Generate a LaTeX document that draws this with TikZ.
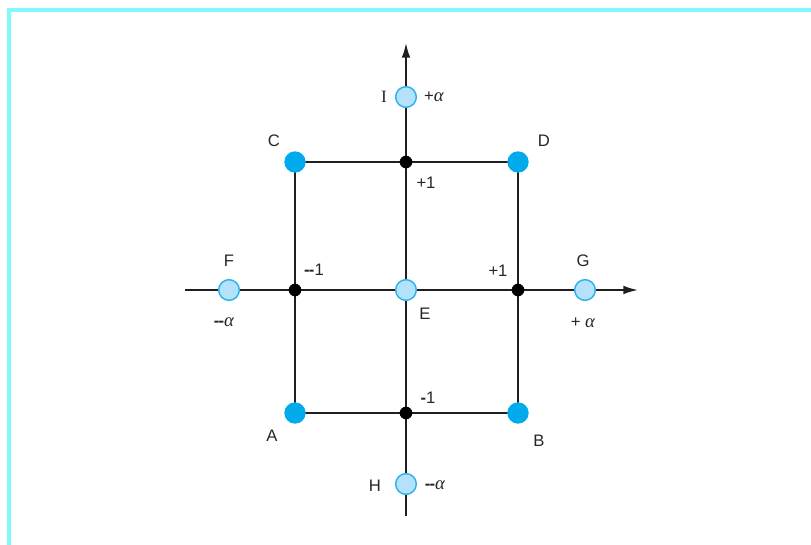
\documentclass[tikz,border=0pt]{standalone}
\usepackage{fontspec}
\setmainfont{Liberation Sans}
\newfontfamily\serifI{Liberation Serif}
\usetikzlibrary{arrows.meta,backgrounds}
\definecolor{framec}{RGB}{128,250,255}
\definecolor{cornerc}{RGB}{0,170,235}
\definecolor{lightfill}{RGB}{180,226,250}
\definecolor{lightedge}{RGB}{45,178,235}
\newcommand{\dm}{\textbf{-}\kern-0.6pt\textbf{-}}
\newcommand{\alp}{{\serifI\fontsize{14}{14}\selectfont\textit{α}}}
\begin{document}
\begin{tikzpicture}[x=0.75pt,y=-0.75pt,
  cornerdot/.style={circle,fill=cornerc,minimum size=16pt,inner sep=0pt},
  blackdot/.style={circle,fill=black,minimum size=9.5pt,inner sep=0pt},
  starpt/.style={circle,fill=lightfill,draw=lightedge,line width=1.1pt,minimum size=15.5pt,inner sep=0pt},
  edgeline/.style={line width=1.5pt,draw=black!88},
  axisline/.style={line width=1.3pt,draw=black!88,-{Latex[length=11pt,width=6.5pt]}},
  lbl/.style={font=\fontsize{12.5}{14}\selectfont,text=black!85,inner sep=0pt}]
\useasboundingbox (0,0) rectangle (811,545);
\clip (0,0) rectangle (811,545);
\draw[framec,line width=2.4pt] (9,10) rectangle (830,560);

% points
\node[cornerdot] (A) at (295,413) {};
\node[cornerdot] (B) at (518,413) {};
\node[cornerdot] (C) at (295,162) {};
\node[cornerdot] (D) at (518,162) {};
\node[blackdot] (top) at (406,162) {};
\node[blackdot] (bot) at (406,413) {};
\node[blackdot] (lft) at (295,290) {};
\node[blackdot] (rgt) at (518,290) {};
\node[starpt] (E) at (406,290) {};
\node[starpt] (I) at (406,97) {};
\node[starpt] (H) at (406,484) {};
\node[starpt] (F) at (229,290) {};
\node[starpt] (G) at (585,290) {};
\coordinate (xl) at (185,290);
\coordinate (xr) at (638,290);
\coordinate (yb) at (406,516);
\coordinate (yt) at (406,43);

\begin{scope}[on background layer]
  \draw[axisline] (xl) -- (xr);
  \draw[axisline] (yb) -- (yt);
  \draw[edgeline] (A.center) -- (B.center) -- (D.center) -- (C.center) -- cycle;
\end{scope}

% labels
\node[lbl,font=\fontsize{13}{14}\serifI] (lI) at (384,97) {I};
\node[lbl] (la1) at (434,97) {+\alp};
\node[lbl] (lC) at (274,141) {C};
\node[lbl] (lD) at (544,141) {D};
\node[lbl] (lt1) at (426,183) {+1};
\node[lbl] (lF) at (229,261) {F};
\node[lbl] (la2) at (224,322) {\dm\alp};
\node[lbl] (ll1) at (314,270) {\dm1};
\node[lbl] (lr1) at (498,271) {+1};
\node[lbl] (lG) at (583,261) {G};
\node[lbl] (la3) at (583,323) {+ \alp};
\node[lbl] (lE) at (425,314) {E};
\node[lbl] (lb1) at (428,398) {\textbf{-}1};
\node[lbl] (lA) at (272,436) {A};
\node[lbl] (lB) at (539,441) {B};
\node[lbl] (lH) at (375,486) {H};
\node[lbl] (la4) at (435,485) {\dm\alp};
\end{tikzpicture}
\end{document}
